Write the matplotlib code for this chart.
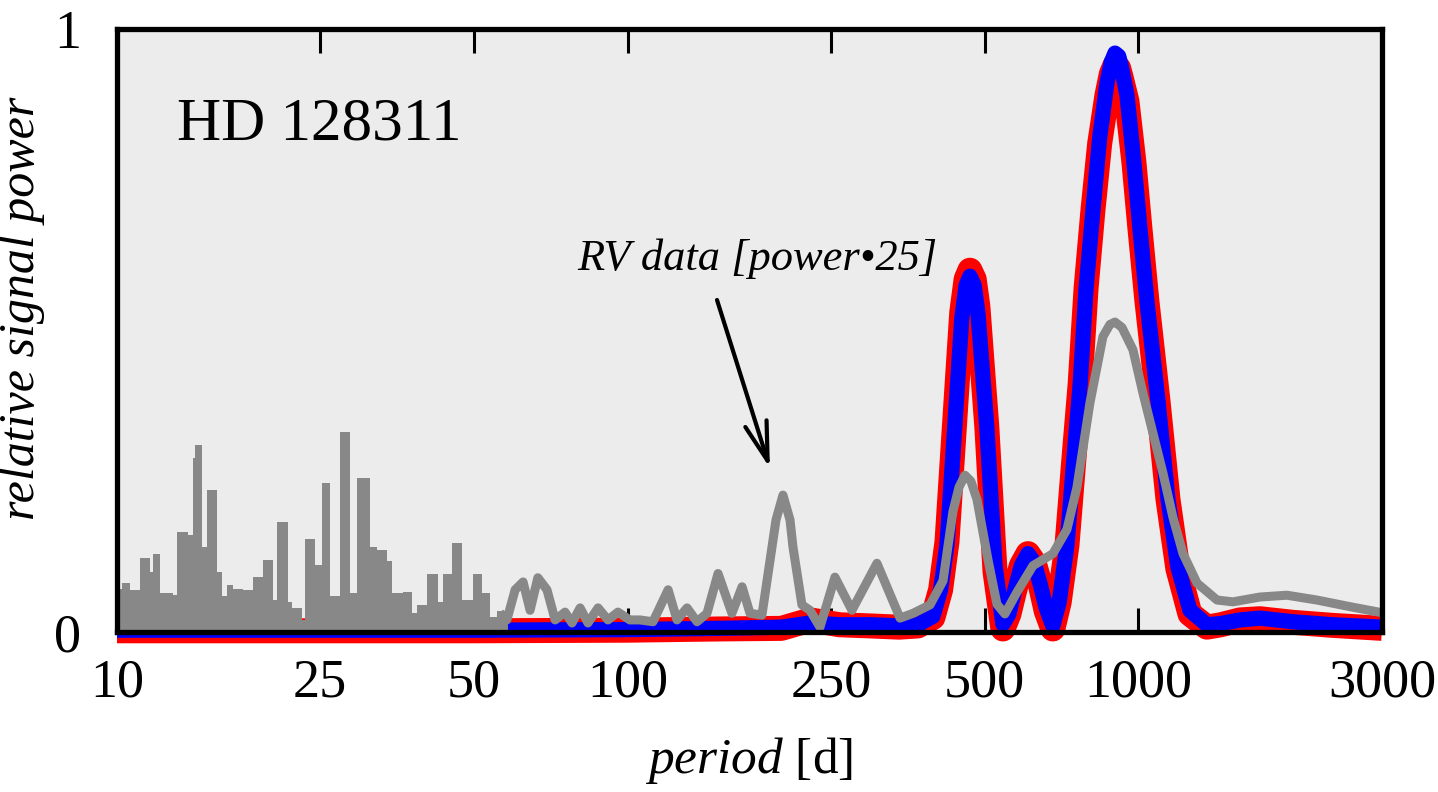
import matplotlib
matplotlib.use("Agg")
import matplotlib.pyplot as plt
import numpy as np

plt.rcParams['font.family'] = ['Liberation Serif', 'DejaVu Serif']
plt.rcParams['mathtext.fontset'] = 'custom'
plt.rcParams['mathtext.rm'] = 'Liberation Serif'
plt.rcParams['mathtext.it'] = 'Liberation Serif:italic'

# ---- data ----
# model periodograms (red / blue)
model_period = [10, 50, 100, 150, 200, 228, 260, 300, 340, 370, 396, 410, 422, 437, 451,
                460, 468, 477, 485, 505, 524, 543, 558, 573, 590, 608, 625, 642, 660, 680,
                700, 725, 750, 769, 790, 815, 840, 868, 885, 900, 915, 925, 950, 980, 1007,
                1039, 1092, 1143, 1195, 1262, 1362, 1450, 1581, 1730, 2008, 2400, 3000]
blue_power = [0.003, 0.003, 0.004, 0.006, 0.008, 0.015, 0.012, 0.012, 0.010, 0.012, 0.026,
              0.07, 0.145, 0.34, 0.52, 0.575, 0.59, 0.575, 0.53, 0.34, 0.11, 0.013, 0.03, 0.07,
              0.11, 0.13, 0.115, 0.08, 0.04, 0.01, 0.05, 0.145, 0.30, 0.41, 0.57, 0.70, 0.82,
              0.91, 0.945, 0.96, 0.955, 0.94, 0.89, 0.78, 0.67, 0.55, 0.385, 0.22, 0.108,
              0.036, 0.012, 0.014, 0.02, 0.023, 0.017, 0.012, 0.008]
red_power = [0.002, 0.002, 0.003, 0.005, 0.006, 0.02, 0.012, 0.010, 0.008, 0.010, 0.024,
             0.07, 0.15, 0.35, 0.53, 0.585, 0.60, 0.585, 0.54, 0.34, 0.10, 0.005, 0.03, 0.07,
             0.11, 0.13, 0.115, 0.08, 0.035, 0.005, 0.05, 0.145, 0.30, 0.41, 0.57, 0.70, 0.81,
             0.89, 0.925, 0.94, 0.935, 0.92, 0.88, 0.78, 0.67, 0.55, 0.385, 0.22, 0.105,
             0.03, 0.008, 0.012, 0.02, 0.022, 0.016, 0.011, 0.006]

# RV data periodogram (x25): dense short-period part, drawn as envelope
rv_dense_period = [10.0, 10.21, 10.60, 11.09, 11.60, 11.78, 12.14, 12.89, 13.09, 13.79, 14.11,
                   14.21, 14.65, 14.98, 15.67, 16.03, 16.40, 16.89, 17.67, 18.49, 19.34, 20.23,
                   20.55, 21.65, 21.99, 23.00, 23.35, 24.42, 25.17, 26.13, 27.33, 28.59, 29.47,
                   31.29, 32.25, 33.74, 34.51, 36.36, 37.76, 38.63, 40.41, 42.58, 43.55, 45.23,
                   47.31, 49.85, 51.77, 53.75, 55.40, 58.36]
rv_dense_power = [0.072, 0.081, 0.070, 0.122, 0.100, 0.130, 0.065, 0.061, 0.166, 0.161, 0.288,
                  0.310, 0.141, 0.235, 0.100, 0.059, 0.078, 0.072, 0.070, 0.092, 0.119, 0.053,
                  0.183, 0.050, 0.039, 0.020, 0.155, 0.111, 0.247, 0.059, 0.332, 0.064, 0.255,
                  0.141, 0.136, 0.117, 0.064, 0.067, 0.031, 0.045, 0.097, 0.050, 0.097, 0.147,
                  0.053, 0.097, 0.064, 0.025, 0.034, 0.034]

# RV data periodogram (x25): longer periods, drawn as line
rv_period = [56.2, 58.0, 60.2, 62.4, 64.4, 66.7, 69.5, 72.1, 75.4, 77.8, 80.7, 83.6, 87.5,
             91.5, 95.7, 101.0, 105.7, 112.1, 120.0, 124.9, 130.7, 136.7, 143.0, 150.3, 160.0,
             167.5, 173.6, 183.2, 191.7, 195.2, 201.4, 207.9, 210.7, 219.4, 227.5, 238.0,
             254.6, 274.9, 307.7, 341.5, 362.0, 390.9, 414.5, 433.5, 445.4, 457.6, 470.1,
             483.0, 507.6, 528.6, 548.0, 578.5, 621.8, 680.4, 724.7, 758.2, 803.9, 852.5,
             879.8, 900.0, 928.9, 976.0, 1021, 1068, 1117, 1169, 1223, 1303, 1426, 1532, 1730,
             1954, 2237, 2597, 3000]
rv_power = [0.032, 0.020, 0.070, 0.083, 0.036, 0.090, 0.070, 0.020, 0.033, 0.015, 0.040, 0.015,
            0.040, 0.020, 0.033, 0.020, 0.020, 0.017, 0.070, 0.020, 0.040, 0.017, 0.031, 0.097,
            0.031, 0.075, 0.031, 0.028, 0.141, 0.186, 0.227, 0.186, 0.141, 0.045, 0.036, 0.008,
            0.091, 0.036, 0.114, 0.023, 0.031, 0.045, 0.085, 0.20, 0.24, 0.26, 0.25, 0.22, 0.12,
            0.046, 0.03, 0.066, 0.11, 0.13, 0.17, 0.24, 0.38, 0.49, 0.51, 0.514, 0.505, 0.468,
            0.396, 0.33, 0.264, 0.19, 0.13, 0.081, 0.053, 0.050, 0.058, 0.061, 0.053, 0.042,
            0.032]

xtick_vals = [10, 25, 50, 100, 250, 500, 1000, 3000]
xtick_labels = ['10', '25', '50', '100', '250', '500', '1000', '3000']

# ---- figure ----
fig = plt.figure(figsize=(14.38, 7.92), dpi=100)
ax = fig.add_axes([117/1438, (792-632)/792, (1382-117)/1438, (632-29)/792])
ax.set_facecolor('#ececec')
ax.set_xscale('log')
ax.set_xlim(10, 3000)
ax.set_ylim(0, 1)

GRAY = '#888888'
ax.plot(model_period, red_power, color='#ff0000', lw=18, solid_joinstyle='round',
        solid_capstyle='butt', clip_on=False, zorder=3)
ax.plot(model_period, blue_power, color='#0000ff', lw=11, solid_joinstyle='round',
        solid_capstyle='butt', clip_on=False, zorder=4)
ax.fill_between(rv_dense_period, 0, rv_dense_power, step='post', color=GRAY, lw=0, zorder=5)
ax.plot(rv_period, rv_power, color=GRAY, lw=6.5, solid_joinstyle='round',
        solid_capstyle='butt', clip_on=False, zorder=5)

for s in ax.spines.values():
    s.set_linewidth(3.8)
    s.set_zorder(10)

ax.set_xticks(xtick_vals)
ax.set_xticklabels(xtick_labels)
ax.xaxis.set_minor_locator(matplotlib.ticker.NullLocator())
ax.tick_params(axis='x', which='major', direction='in', top=True, bottom=True,
               length=17, width=2.2, labelsize=39, pad=19)
ax.set_yticks([0, 1])
ax.set_yticklabels(['0', '1'])
ax.tick_params(axis='y', which='major', length=0, labelsize=39, pad=26)

ax.set_ylabel('relative signal power', fontsize=36, fontstyle='italic')
ax.yaxis.set_label_coords(-0.057, 0.537)
ax.set_xlabel(r'$\mathit{period}$ [d]', fontsize=37)
ax.xaxis.set_label_coords(0.5, -0.17)

ax.text(0.0474, 0.816, 'HD 128311', transform=ax.transAxes, fontsize=44,
        va='baseline', ha='left')

ax.text(179.1, 0.600, 'RV data [power\u202225]', fontsize=32, fontstyle='italic',
        ha='center', va='baseline')
ax.annotate('', xy=(189.9, 0.272), xytext=(149.6, 0.5506),
            arrowprops=dict(arrowstyle='->,head_length=1.4,head_width=0.4',
                            color='black', lw=3, mutation_scale=20,
                            shrinkA=0, shrinkB=0))

fig.savefig('out.png', dpi=100)
